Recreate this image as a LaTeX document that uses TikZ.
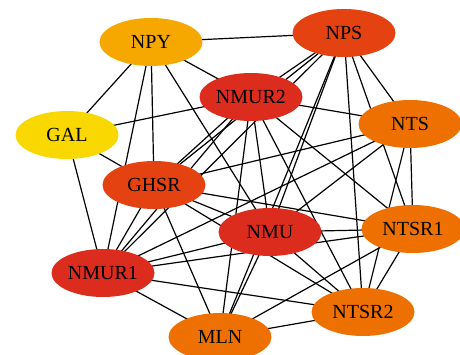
\documentclass[tikz,border=0pt]{standalone}
\usepackage{fontspec}
\setmainfont{Liberation Serif}
\usetikzlibrary{shapes.geometric,backgrounds}
\definecolor{cred}{RGB}{220,44,30}
\definecolor{cored}{RGB}{229,66,18}
\definecolor{corange}{RGB}{238,112,0}
\definecolor{camber}{RGB}{246,168,0}
\definecolor{cyellow}{RGB}{248,216,0}
\begin{document}
\begin{tikzpicture}[x=1pt,y=-1pt,
  gene/.style={ellipse,inner sep=0pt,minimum width=103pt,minimum height=48pt,font=\fontsize{20}{20}\selectfont},
  link/.style={line width=1.2pt,black}]
\clip (0,0) rectangle (460,355);
\useasboundingbox (0,0) rectangle (460,355);
\node[gene,fill=camber] (NPY) at (151,42) {NPY};
\node[gene,fill=cored] (NPS) at (344,33) {NPS};
\node[gene,fill=cred] (NMUR2) at (251,97) {NMUR2};
\node[gene,fill=cyellow] (GAL) at (67,135) {GAL};
\node[gene,fill=corange] (NTS) at (410,124) {NTS};
\node[gene,fill=cored] (GHSR) at (154,185) {GHSR};
\node[gene,fill=cred] (NMU) at (270,232) {NMU};
\node[gene,fill=corange] (NTSR1) at (413,229) {NTSR1};
\node[gene,fill=cred] (NMUR1) at (103,273) {NMUR1};
\node[gene,fill=corange] (NTSR2) at (363,312) {NTSR2};
\node[gene,fill=corange] (MLN) at (220,337) {MLN};
\begin{pgfonlayer}{background}
\foreach \a/\b in {NPY/NPS,NPY/NMUR2,NPY/GAL,NPY/NMUR1,NPY/GHSR,NPY/NMU,
  GAL/NMUR2,GAL/GHSR,GAL/NMUR1,
  NPS/NMUR2,NPS/GHSR,NPS/NMUR1,NPS/NMU,NPS/MLN,NPS/NTSR2,NPS/NTSR1,NPS/NTS,
  NMUR2/NTS,NMUR2/GHSR,NMUR2/NMUR1,NMUR2/NMU,NMUR2/MLN,NMUR2/NTSR1,NMUR2/NTSR2,
  NTS/GHSR,NTS/NMUR1,NTS/NTSR1,NTS/NTSR2,NTS/NMU,
  GHSR/NMUR1,GHSR/MLN,GHSR/NMU,GHSR/NTSR1,GHSR/NTSR2,
  NMUR1/NMU,NMUR1/NTSR1,NMUR1/NTSR2,NMUR1/MLN,
  NMU/NTSR1,NMU/NTSR2,NMU/MLN,
  NTSR1/NTSR2,NTSR1/MLN,NTSR2/MLN}
  \draw[link] (\a.center) -- (\b.center);
\end{pgfonlayer}
\end{tikzpicture}
\end{document}
